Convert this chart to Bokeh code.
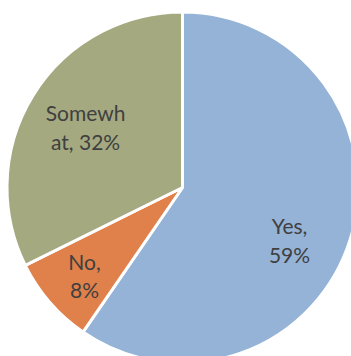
import math
from bokeh.plotting import figure
from bokeh.models import Range1d, ColumnDataSource
from bokeh.core.properties import value
from bokeh.embed import file_html
from bokeh.resources import INLINE

# Data
categories = ["Yes", "No", "Somewhat"]
labels = ["Yes,\n59%", "No,\n8%", "Somewh\nat, 32%"]
values = [59, 8, 32]
colors = ["#95B3D7", "#E0804A", "#A4A980"]

# Layout (pixels)
W, H = 351, 356
cx, cy, R = 182, -187, 175.5
label_r_frac = [0.68, 0.75, 0.65]
label_shift_deg = [9, -1, 0]

total = sum(values)
starts, ends, lx, ly = [], [], [], []
cum = 0.0
for i, v in enumerate(values):
    a0 = cum / total
    cum += v
    a1 = cum / total
    starts.append(math.pi / 2 - a1 * 2 * math.pi)
    ends.append(math.pi / 2 - a0 * 2 * math.pi)
    mid_deg = (a0 + a1) / 2 * 360 + label_shift_deg[i]
    r = R * label_r_frac[i]
    lx.append(cx + r * math.sin(math.radians(mid_deg)))
    ly.append(cy + r * math.cos(math.radians(mid_deg)))

src = ColumnDataSource(dict(cat=categories, start=starts, end=ends, color=colors,
                            lx=lx, ly=ly, label=labels))

p = figure(width=W, height=H, output_backend="svg", toolbar_location=None,
           x_range=Range1d(0, W), y_range=Range1d(-H, 0),
           min_border=0)
p.axis.visible = False
p.grid.visible = False
p.outline_line_color = None
p.background_fill_color = "white"
p.border_fill_color = "white"

p.wedge(x=cx, y=cy, radius=R, start_angle="start", end_angle="end",
        fill_color="color", line_color="white", line_width=3, source=src)

p.text(x="lx", y="ly", text="label", source=src,
       text_font=value("Lato"), text_font_size="21px", text_color="#404040",
       text_align="center", text_baseline="middle", text_line_height=1.15)

open("out.html", "w").write(file_html(p, INLINE))
